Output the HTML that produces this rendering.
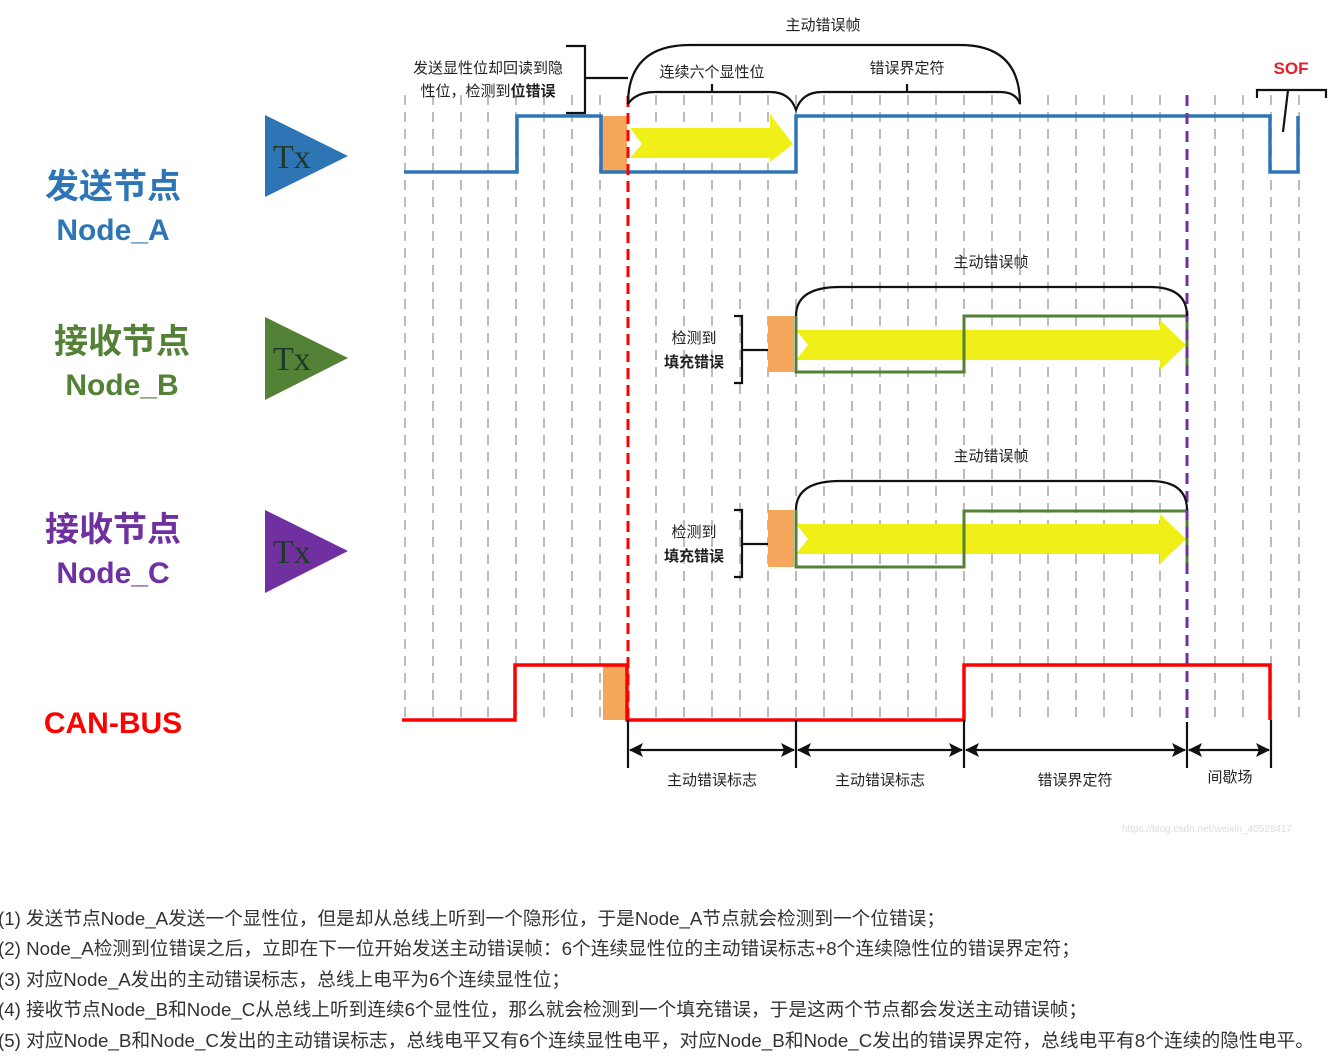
<!DOCTYPE html>
<html><head><meta charset="utf-8"><style>
html,body{margin:0;padding:0;background:#fff;}
svg{display:block;}
.t{font-family:"Liberation Sans","Noto Sans CJK SC",sans-serif;}
</style></head><body>
<svg width="1344" height="1057" viewBox="0 0 1344 1057" xmlns="http://www.w3.org/2000/svg" class="t">
<g id="grid" stroke="#b0b0b0" stroke-width="1.7" stroke-dasharray="10,7">
<line x1="405" y1="95" x2="405" y2="722"/><line x1="433" y1="95" x2="433" y2="722"/><line x1="461" y1="95" x2="461" y2="722"/><line x1="488" y1="95" x2="488" y2="722"/><line x1="516" y1="95" x2="516" y2="722"/><line x1="544" y1="95" x2="544" y2="722"/><line x1="572" y1="95" x2="572" y2="722"/><line x1="600" y1="95" x2="600" y2="722"/><line x1="656" y1="95" x2="656" y2="722"/><line x1="684" y1="95" x2="684" y2="722"/><line x1="712" y1="95" x2="712" y2="722"/><line x1="740" y1="95" x2="740" y2="722"/><line x1="768" y1="95" x2="768" y2="722"/><line x1="796" y1="95" x2="796" y2="722"/><line x1="824" y1="95" x2="824" y2="722"/><line x1="852" y1="95" x2="852" y2="722"/><line x1="880" y1="95" x2="880" y2="722"/><line x1="908" y1="95" x2="908" y2="722"/><line x1="936" y1="95" x2="936" y2="722"/><line x1="964" y1="95" x2="964" y2="722"/><line x1="992" y1="95" x2="992" y2="722"/><line x1="1020" y1="95" x2="1020" y2="722"/><line x1="1048" y1="95" x2="1048" y2="722"/><line x1="1076" y1="95" x2="1076" y2="722"/><line x1="1104" y1="95" x2="1104" y2="722"/><line x1="1132" y1="95" x2="1132" y2="722"/><line x1="1160" y1="95" x2="1160" y2="722"/><line x1="1215" y1="95" x2="1215" y2="722"/><line x1="1243" y1="95" x2="1243" y2="722"/><line x1="1271" y1="95" x2="1271" y2="722"/><line x1="1299" y1="95" x2="1299" y2="722"/>
</g>
<g font-weight="bold" text-anchor="middle">
<text x="113" y="198" font-size="34" fill="#2e75b6">发送节点</text>
<text x="113" y="240" font-size="30" fill="#2e75b6">Node_A</text>
<text x="122" y="353" font-size="34" fill="#538135">接收节点</text>
<text x="122" y="395" font-size="30" fill="#538135">Node_B</text>
<text x="113" y="541" font-size="34" fill="#7030a0">接收节点</text>
<text x="113" y="583" font-size="30" fill="#7030a0">Node_C</text>
<text x="113" y="733" font-size="30" fill="#ff0000">CAN-BUS</text>
</g>
<polygon points="265,115 348,156 265,197" fill="#2e75b6"/>
<polygon points="265,317 348,358 265,400" fill="#538135"/>
<polygon points="265,510 348,551 265,593" fill="#7030a0"/>
<g font-family="Liberation Serif,serif" font-size="34" fill="#1f3a2a">
<text x="273" y="168">Tx</text><text x="273" y="370">Tx</text><text x="273" y="563">Tx</text>
</g>
<rect x="601" y="116" width="26" height="56" fill="#f4a75a"/>
<rect x="768" y="316" width="26" height="56" fill="#f4a75a"/>
<rect x="768" y="510" width="26" height="57" fill="#f4a75a"/>
<rect x="603" y="665" width="24" height="55" fill="#f4a75a"/>
<polygon points="630,128 770,128 770,114 793,144 770,162 770,158 630,158 642,144" fill="#f0f018"/>
<polygon points="796,330 1160,330 1160,320 1186,345 1160,370 1160,360 796,360 808,345" fill="#f0f018"/>
<polygon points="796,524 1160,524 1160,514 1186,539 1160,564 1160,554 796,554 808,539" fill="#f0f018"/>
<polyline points="404,172 517,172 517,116 601,116 601,172 796,172 796,116 1270,116 1270,172 1298,172 1298,116" fill="none" stroke="#2e75b6" stroke-width="3.5"/>
<polyline points="796,316 796,372 964,372 964,316 1187,316 1187,372" fill="none" stroke="#538135" stroke-width="3"/>
<polyline points="796,510 796,567 964,567 964,511 1187,511 1187,567" fill="none" stroke="#538135" stroke-width="3"/>
<polyline points="402,720 515,720 515,665 627,665 627,720 964,720 964,665 1270,665 1270,720" fill="none" stroke="#ff0000" stroke-width="3.5"/>
<line x1="628" y1="96" x2="628" y2="722" stroke="#ff0000" stroke-width="3" stroke-dasharray="11,6"/>
<line x1="1187" y1="95" x2="1187" y2="722" stroke="#7030a0" stroke-width="3" stroke-dasharray="11,7"/>
<g fill="none" stroke="#111" stroke-width="2.2">
<path d="M628,104 Q628,45 690,45 L960,45 Q1020,45 1020,104"/>
<path d="M628,104 Q636,92 655,92 L770,92 Q790,92 796,110 Q802,92 822,92 L1000,92 Q1016,92 1020,104"/>
<line x1="712" y1="92" x2="712" y2="84"/><line x1="907" y1="92" x2="907" y2="84"/>
<path d="M566,46 L585,46 L585,113 L566,113 M585,78 L628,78"/>
<path d="M796,316 Q796,287 840,287 L1150,287 Q1187,287 1187,316"/>
<path d="M796,510 Q796,481 840,481 L1150,481 Q1187,481 1187,510"/>
<path d="M734,316 L742,316 L742,383 L734,383 M742,350 L768,350"/>
<path d="M734,510 L742,510 L742,577 L734,577 M742,544 L768,544"/>
<path d="M1257,98 L1257,90 L1326,90 L1326,98 M1288,90 L1283,132"/>
</g>
<g stroke="#111" stroke-width="2.2" fill="#111">
<line x1="628" y1="720" x2="628" y2="768"/><line x1="796" y1="720" x2="796" y2="768"/><line x1="964" y1="720" x2="964" y2="768"/><line x1="1187" y1="722" x2="1187" y2="768"/><line x1="1271" y1="720" x2="1271" y2="768"/>
<line x1="630" y1="750" x2="794" y2="750"/><line x1="798" y1="750" x2="962" y2="750"/><line x1="966" y1="750" x2="1185" y2="750"/><line x1="1189" y1="750" x2="1269" y2="750"/>
</g>
<g fill="#111">
<polygon points="629,750 643,743 640,750 643,757"/><polygon points="795,750 781,743 784,750 781,757"/>
<polygon points="797,750 811,743 808,750 811,757"/><polygon points="963,750 949,743 952,750 949,757"/>
<polygon points="965,750 979,743 976,750 979,757"/><polygon points="1186,750 1172,743 1175,750 1172,757"/>
<polygon points="1188,750 1202,743 1199,750 1202,757"/><polygon points="1270,750 1256,743 1259,750 1256,757"/>
</g>
<g font-size="15" fill="#222" text-anchor="middle">
<text x="823" y="30">主动错误帧</text>
<text x="712" y="77">连续六个显性位</text>
<text x="907" y="73">错误界定符</text>
<text x="488" y="73">发送显性位却回读到隐</text>
<text x="488" y="96">性位，检测到<tspan font-weight="bold">位错误</tspan></text>
<text x="991" y="267">主动错误帧</text>
<text x="991" y="461">主动错误帧</text>
<text x="694" y="343">检测到</text><text x="694" y="367" font-weight="bold">填充错误</text>
<text x="694" y="537">检测到</text><text x="694" y="561" font-weight="bold">填充错误</text>
<text x="712" y="785">主动错误标志</text>
<text x="880" y="785">主动错误标志</text>
<text x="1075" y="785">错误界定符</text>
<text x="1230" y="782">间歇场</text>
</g>
<text x="1291" y="74" font-size="17" font-weight="bold" fill="#e0202a" text-anchor="middle">SOF</text>
<text x="1207" y="832" font-size="10" fill="#dcdcdc" text-anchor="middle">https://blog.csdn.net/weixin_40528417</text>
<g font-size="18.5" fill="#333" lengthAdjust="spacingAndGlyphs">
<text x="-2" y="925" textLength="947" lengthAdjust="spacingAndGlyphs">(1) 发送节点Node_A发送一个显性位，但是却从总线上听到一个隐形位，于是Node_A节点就会检测到一个位错误；</text>
<text x="-2" y="955" textLength="1082" lengthAdjust="spacingAndGlyphs">(2) Node_A检测到位错误之后，立即在下一位开始发送主动错误帧：6个连续显性位的主动错误标志+8个连续隐性位的错误界定符；</text>
<text x="-2" y="986" textLength="572" lengthAdjust="spacingAndGlyphs">(3) 对应Node_A发出的主动错误标志，总线上电平为6个连续显性位；</text>
<text x="-2" y="1016" textLength="1089" lengthAdjust="spacingAndGlyphs">(4) 接收节点Node_B和Node_C从总线上听到连续6个显性位，那么就会检测到一个填充错误，于是这两个节点都会发送主动错误帧；</text>
<text x="-2" y="1047" textLength="1316" lengthAdjust="spacingAndGlyphs">(5) 对应Node_B和Node_C发出的主动错误标志，总线电平又有6个连续显性电平，对应Node_B和Node_C发出的错误界定符，总线电平有8个连续的隐性电平。</text>
</g>
</svg>
</body></html>
